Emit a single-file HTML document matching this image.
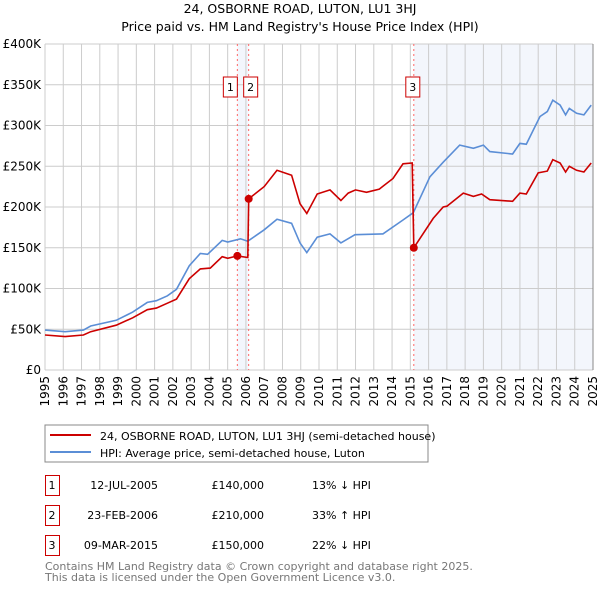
<!DOCTYPE html>
<html><head><meta charset="utf-8"><style>
body{margin:0;background:#fff;font-family:"DejaVu Sans","Liberation Sans",sans-serif;}
svg text{font-family:"DejaVu Sans","Liberation Sans",sans-serif;}
</style></head><body>
<svg id="c" width="600" height="590" xmlns="http://www.w3.org/2000/svg">
<text x="300" y="13" text-anchor="middle" font-size="12.5">24, OSBORNE ROAD, LUTON, LU1 3HJ</text>
<text x="300" y="31" text-anchor="middle" font-size="12.5">Price paid vs. HM Land Registry's House Price Index (HPI)</text>
<g id="plot"></g>
<rect x="45" y="425" width="383" height="37" fill="#fff" stroke="#888"/>
<line x1="50" y1="435" x2="91" y2="435" stroke="#cc0000" stroke-width="2"/>
<text x="100" y="440" font-size="11">24, OSBORNE ROAD, LUTON, LU1 3HJ (semi-detached house)</text>
<line x1="50" y1="452" x2="91" y2="452" stroke="#5b8ed6" stroke-width="2"/>
<text x="100" y="457" font-size="11">HPI: Average price, semi-detached house, Luton</text>
<g id="table"></g>
<text x="45" y="570" font-size="11" fill="#777">Contains HM Land Registry data © Crown copyright and database right 2025.</text>
<text x="45" y="581" font-size="11" fill="#777">This data is licensed under the Open Government Licence v3.0.</text>
</svg>
<script>
const hpiYears=[1995,1996.1,1997.1,1997.5,1998.9,1999.8,2000.6,2001.1,2001.7,2002.2,2002.9,2003.5,2003.9,2004.7,2005.0,2005.7,2006.1,2007.0,2007.7,2008.5,2008.96,2009.33,2009.9,2010.6,2011.2,2011.97,2013.5,2014.6,2015.16,2016.07,2016.8,2017.7,2018.45,2019.0,2019.35,2020.6,2021.0,2021.35,2022.1,2022.5,2022.8,2023.2,2023.5,2023.7,2024.1,2024.5,2024.9];
const hpiValues=[49,47,49,54,61,71,83,85,91,99,128,143,142,159,157,161,158,172,185,180,156,144,163,167,156,166,167,184,193,237,255,276,272,276,268,265,278,277,311,317,331,325,313,321,315,313,325];
const propYears=[1995,1996.1,1997.1,1997.5,1998.9,1999.8,2000.6,2001.1,2001.7,2002.2,2002.9,2003.5,2004.05,2004.7,2005.0,2005.53,2006.1,2006.15,2007.0,2007.7,2008.5,2008.96,2009.33,2009.9,2010.6,2011.2,2011.6,2012.0,2012.6,2013.3,2014.05,2014.6,2015.1,2015.19,2016.25,2016.8,2017.0,2017.9,2018.45,2018.9,2019.35,2020.6,2021.0,2021.35,2022.0,2022.5,2022.8,2023.2,2023.5,2023.7,2024.1,2024.5,2024.9];
const propValues=[43,41,43,47,55,64,74,76,82,87,112,124,125,139,137,140,138,210,225,245,239,204,192,216,221,208,217,221,218,222,235,253,254,150,186,200,201,217,213,216,209,207,217,216,242,244,258,254,243,250,245,243,254];
const saleYears=[2005.53,2006.15,2015.19];
const saleValues=[140,210,150];
const saleLabels=["1","2","3"];
const saleDates=["12-JUL-2005","23-FEB-2006","09-MAR-2015"];
const salePrices=["£140,000","£210,000","£150,000"];
const saleDiffs=["13% ↓ HPI","33% ↑ HPI","22% ↓ HPI"];
const yTicks=[0,50,100,150,200,250,300,350,400];
const yTickLabels=["£0","£50K","£100K","£150K","£200K","£250K","£300K","£350K","£400K"];
const xTicks=[1995,1996,1997,1998,1999,2000,2001,2002,2003,2004,2005,2006,2007,2008,2009,2010,2011,2012,2013,2014,2015,2016,2017,2018,2019,2020,2021,2022,2023,2024,2025];

const NS="http://www.w3.org/2000/svg";
const X0=45,X1=593,Y0=370,Y1=44;
const xs=y=>X0+(y-1995)/30*(X1-X0);
const ys=v=>Y0-v/400*(Y0-Y1);
const plot=document.getElementById('plot');
function mk(tag,attrs,parent){const e=document.createElementNS(NS,tag);for(const k in attrs)e.setAttribute(k,attrs[k]);(parent||plot).appendChild(e);return e;}
// shading
let s1=mk('rect',{x:xs(saleYears[0]),y:Y1,width:xs(saleYears[1])-xs(saleYears[0]),height:Y0-Y1,fill:'#eef2fb',opacity:0.7});


let s2=mk('rect',{x:xs(saleYears[2]),y:Y1,width:X1-xs(saleYears[2]),height:Y0-Y1,fill:'#eef2fb',opacity:0.7});


// grid
yTicks.forEach((t,i)=>{
 let l=mk('line',{x1:X0,x2:X1,y1:ys(t),y2:ys(t),stroke:'#cccccc'});
 
 
 let tx=mk('text',{x:X0-4,y:ys(t)+4,'text-anchor':'end','font-size':12});
 tx.textContent=yTickLabels[i];
 
 
});
xTicks.forEach(t=>{
 let l=mk('line',{x1:xs(t),x2:xs(t),y1:Y1,y2:Y0,stroke:'#cccccc'});
 
 
 let tx=mk('text',{x:0,y:0,'text-anchor':'end','font-size':12,transform:`translate(${xs(t)+4},${Y0+6}) rotate(-90)`});
 tx.textContent=t;
 
 
});
let rb=mk('line',{x1:X1,x2:X1,y1:Y1,y2:Y0,stroke:'#888'});


// sale vlines
saleYears.forEach(y=>{
 let l=mk('line',{x1:xs(y),x2:xs(y),y1:Y1,y2:Y0,stroke:'#ff6666','stroke-dasharray':'2,3'});
 
 
});
function path(xa,va,color,name){
 let d=xa.map((y,i)=>(i?'L':'M')+xs(y).toFixed(1)+','+ys(va[i]).toFixed(1)).join('');
 let p=mk('path',{d:d,fill:'none',stroke:color,'stroke-width':1.6});
 
 
}
path(hpiYears,hpiValues,'#5b8ed6','hpi-line');
path(propYears,propValues,'#cc0000','property-price-line');
saleYears.forEach((y,i)=>{
 let c=mk('circle',{cx:xs(y),cy:ys(saleValues[i]),r:4,fill:'#cc0000'});
 
 
 const bx=i==0?xs(y)-14:(i==1?xs(y)-5:xs(y)-8);
 let r=mk('rect',{x:bx,y:77,width:14,height:20,fill:'#fff',stroke:'#cc0000'});
 
 
 let t=mk('text',{x:bx+7,y:91,'text-anchor':'middle','font-size':11});
 t.textContent=saleLabels[i];
 
 
});
// table
const tb=document.getElementById('table');
saleLabels.forEach((lab,i)=>{
 const yy=475+i*30;
 let r=mk('rect',{x:45.5,y:yy+0.5,width:14,height:20,fill:'#fff',stroke:'#cc0000'},tb);
 
 
 const cells=[[52,'middle',lab],[158,'end',saleDates[i]],[264,'end',salePrices[i]],[312,'start',saleDiffs[i]]];
 cells.forEach(c=>{
  let t=mk('text',{x:c[0],y:yy+14,'text-anchor':c[1],'font-size':11},tb);
  t.textContent=c[2];
  
  
 });
});
</script>
</body></html>
